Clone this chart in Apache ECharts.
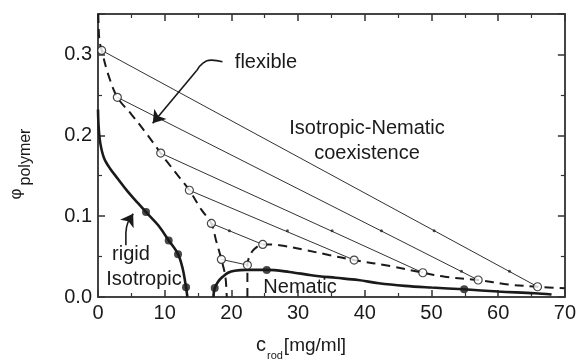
<!DOCTYPE html>
<html>
<head>
<meta charset="utf-8">
<script src="https://cdn.jsdelivr.net/npm/echarts@6/dist/echarts.min.js"></script>
<style>
  html, body { margin: 0; padding: 0; background: #fff; }
  #chart { width: 579px; height: 362px; }
</style>
</head>
<body>
<div id="chart"></div>
<script>
// Rigid rods: isotropic and nematic binodals [c_rod (mg/ml), phi_polymer]
const rigidIsotropic = [[0, 0.232], [0.1, 0.21], [0.35, 0.19], [0.9, 0.172], [1.8, 0.159], [3, 0.146],
  [4.5, 0.13], [6, 0.116], [7.2, 0.105], [9, 0.089], [10.6, 0.070], [12, 0.053], [12.7, 0.035],
  [13.2, 0.012], [13.4, 0]];
const rigidIsotropicMarks = [[7.2, 0.105], [10.6, 0.070], [12, 0.053], [13.2, 0.012]];

const rigidNematic = [[17.3, 0], [17.5, 0.011], [18.0, 0.019], [18.7, 0.025], [19.5, 0.030],
  [20.5, 0.0325], [22.2, 0.0335], [25.3, 0.0335], [28.7, 0.031], [32, 0.027], [35.6, 0.0238],
  [39, 0.021], [42.1, 0.017], [46, 0.0138], [50, 0.0117], [54.9, 0.0095], [60, 0.0068],
  [65.5, 0.0046], [68, 0.003]];
const rigidNematicMarks = [[17.5, 0.011], [25.3, 0.0335], [54.9, 0.0095]];

// Flexible polymer: isotropic and nematic binodals
const flexIsotropic = [[0.05, 0.35], [0.2, 0.318], [0.55, 0.305], [1.5, 0.276], [2.9, 0.247],
  [5, 0.226], [7, 0.205], [9.4, 0.178], [10.2, 0.169], [12.2, 0.148], [13.7, 0.132],
  [15.5, 0.108], [17.0, 0.091], [17.7, 0.070], [18.5, 0.0465], [19.1, 0.025], [19.3, 0]];
const flexIsotropicMarks = [[0.55, 0.305], [2.9, 0.247], [9.4, 0.178], [13.7, 0.132],
  [17.0, 0.091], [18.5, 0.0465]];

const flexNematic = [[22.4, 0], [22.4, 0.0395], [22.7, 0.05], [23.4, 0.059], [24.7, 0.065],
  [27.2, 0.064], [31.1, 0.058], [34.6, 0.052], [38.4, 0.0457], [44, 0.038], [48.7, 0.030],
  [52, 0.025], [57.0, 0.021], [61.5, 0.0155], [65.9, 0.0127], [70, 0.0107]];
const flexNematicMarks = [[22.4, 0.0395], [24.7, 0.065], [38.4, 0.0457], [48.7, 0.030],
  [57.0, 0.021], [65.9, 0.0127]];

// Coexistence tie lines joining isotropic and nematic compositions
const tieLines = [
  [[0.55, 0.305], [65.9, 0.0127]],
  [[2.9, 0.247], [57.0, 0.021]],
  [[9.4, 0.178], [48.7, 0.030]],
  [[13.7, 0.132], [38.4, 0.0457]],
  [[17.0, 0.091], [24.7, 0.065]],
  [[18.5, 0.0465], [22.4, 0.0395]]
];
const tieDots = [[19.7, 0.082], [28.4, 0.082], [35.1, 0.082], [42.5, 0.082], [50.4, 0.082],
  [54.5, 0.032], [61.7, 0.032]];

// Annotation arrows: curved lead-in, then the arrowed final stroke
const flexibleArrowTail = [[18.66, 0.291], [17.0, 0.293], [15.7, 0.289], [14.8, 0.280]];
const flexibleArrowHead = [[14.8, 0.280], [8.2, 0.215]];
const rigidArrowTail = [[4.18, 0.064], [4.18, 0.079], [4.52, 0.093]];
const rigidArrowHead = [[4.52, 0.093], [5.27, 0.103]];

// Axis ranges and ticks
const xRange = [0, 70];
const xStep = 10;
const yRange = [0, 0.35];
const yStep = 0.1;

const INK = '#1a1a1a';
const FONT = 'Liberation Sans, Arial, sans-serif';

const chart = echarts.init(document.getElementById('chart'), null, { renderer: 'canvas' });

function frameAxis(pos, isX, showLabel) {
  return {
    type: 'value',
    position: pos,
    min: isX ? xRange[0] : yRange[0],
    max: isX ? xRange[1] : yRange[1],
    interval: isX ? xStep : yStep,
    axisLine: { show: true, onZero: false, lineStyle: { color: '#444', width: 2 } },
    axisTick: { show: true, inside: true, length: 7, lineStyle: { color: '#333', width: 1.5 } },
    minorTick: { show: true, splitNumber: 2, length: 4, lineStyle: { color: '#333', width: 1.2 } },
    splitLine: { show: false },
    axisLabel: {
      show: showLabel, color: INK, fontFamily: FONT, fontSize: 20, margin: 6,
      showMaxLabel: isX,
      formatter: isX ? (v => String(v)) : (v => v.toFixed(1))
    }
  };
}

const solid = (data, width) => ({
  type: 'line', data, smooth: 0.35, symbol: 'none', silent: true,
  lineStyle: { color: INK, width }, z: 3
});

const series = [];
tieLines.forEach(seg => series.push({
  type: 'line', data: seg, symbol: 'none', silent: true,
  lineStyle: { color: '#333', width: 1 }, z: 1
}));
series.push({
  type: 'scatter', data: tieDots, symbol: 'circle', symbolSize: 3, silent: true,
  itemStyle: { color: '#222' }, z: 2
});
series.push(Object.assign(solid(flexIsotropic, 2), { lineStyle: { color: INK, width: 2, type: [9, 6] } }));
series.push(Object.assign(solid(flexNematic, 2), { lineStyle: { color: INK, width: 2, type: [9, 6] } }));
series.push(solid(rigidIsotropic, 2.6));
series.push(solid(rigidNematic, 2.6));
[flexIsotropicMarks, flexNematicMarks].forEach(d => series.push({
  type: 'scatter', data: d, symbol: 'circle', symbolSize: 8, silent: true,
  itemStyle: { color: '#fff', borderColor: INK, borderWidth: 1.2 }, z: 5
}));
[rigidIsotropicMarks, rigidNematicMarks].forEach(d => series.push({
  type: 'scatter', data: d, symbol: 'circle', symbolSize: 8, silent: true,
  itemStyle: { color: INK }, z: 5
}));
[flexibleArrowTail, rigidArrowTail].forEach(path => series.push({
  type: 'line', data: path, smooth: 0.5, symbol: 'none', silent: true,
  lineStyle: { color: INK, width: 1.6 }, z: 6
}));
series.push({
  type: 'lines', coordinateSystem: 'cartesian2d', silent: true,
  symbol: ['none', 'arrow'], symbolSize: [9, 12],
  data: [{ coords: flexibleArrowHead }, { coords: rigidArrowHead }],
  lineStyle: { color: INK, width: 1.6, opacity: 1, curveness: 0 }, z: 6
});

const txt = (text, x, y, size, extra) => Object.assign({
  type: 'text', x, y, silent: true,
  style: { text, fill: INK, font: size + 'px ' + FONT, textAlign: 'center', textVerticalAlign: 'middle' }
}, extra || {});

chart.setOption({
  animation: false,
  backgroundColor: '#fff',
  grid: { left: 98, right: 12, top: 14, bottom: 65, containLabel: false },
  xAxis: [frameAxis('bottom', true, true), frameAxis('top', true, false)],
  yAxis: [frameAxis('left', false, true), frameAxis('right', false, false)],
  series,
  graphic: [
    txt('flexible', 266, 62, 20),
    txt('Isotropic-Nematic', 367, 128, 20),
    txt('coexistence', 367, 153, 20),
    txt('rigid', 131, 254, 20),
    txt('Isotropic', 144, 279, 20),
    txt('Nematic', 300, 287, 20),
    // axis titles
    txt('c', 261, 345, 20),
    txt('rod', 275, 356, 11),
    txt('[mg/ml]', 315, 346, 19),
    txt('\u03c6', 16, 194, 17, { rotation: Math.PI / 2 }),
    txt('polymer', 26, 157, 16, { rotation: Math.PI / 2 })
  ]
});
</script>
</body>
</html>
